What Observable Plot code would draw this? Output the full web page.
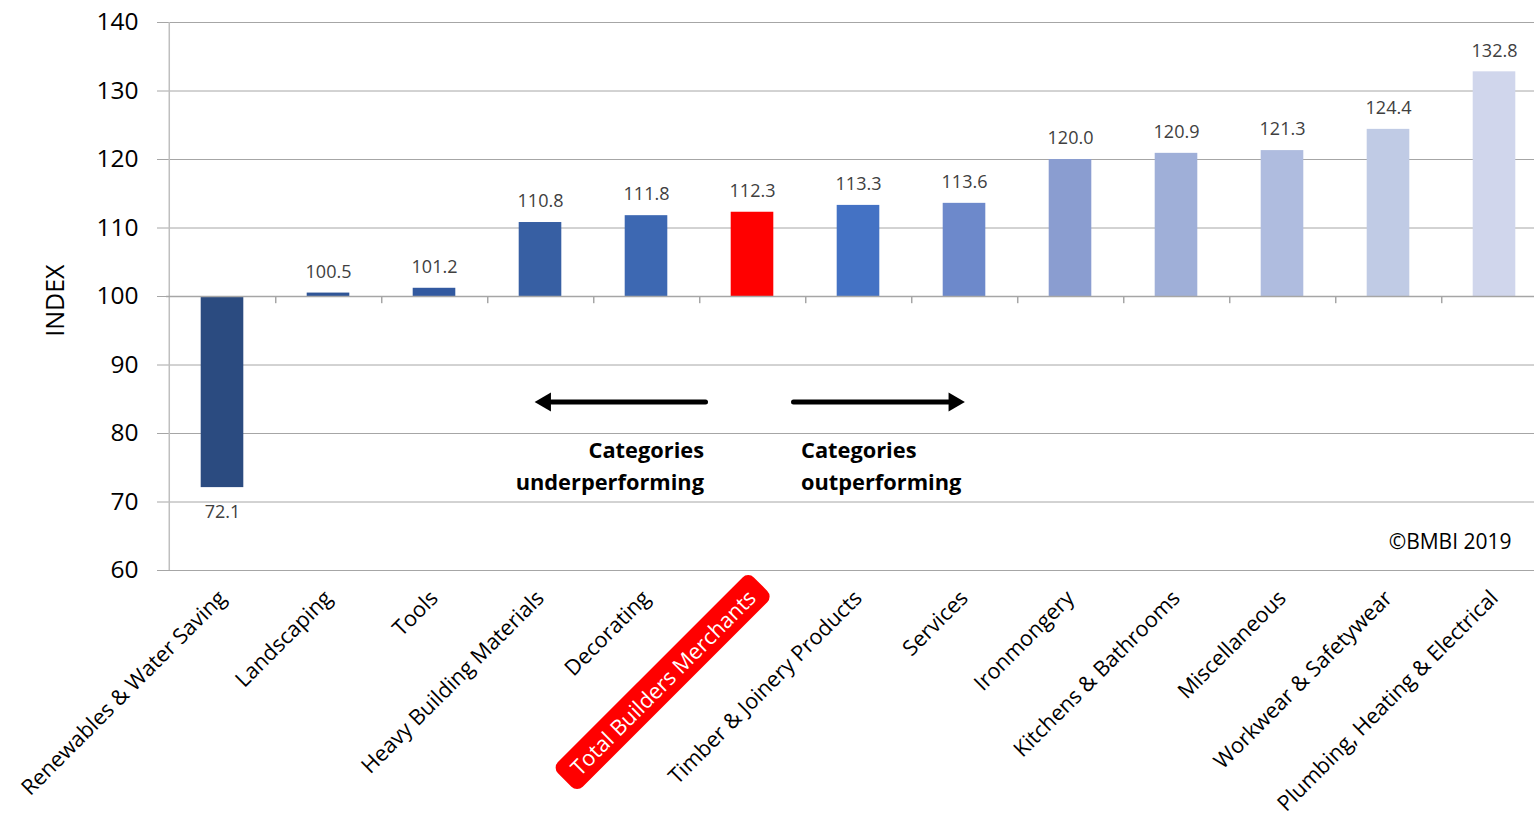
<!DOCTYPE html>
<html>
<head>
<meta charset="utf-8">
<script src="https://cdn.jsdelivr.net/npm/d3@7"></script>
<script src="https://cdn.jsdelivr.net/npm/@observablehq/plot@0.6"></script>
<style>
  html, body { margin: 0; padding: 0; background: #fff; overflow: hidden; }
  #chart svg { display: block; }
</style>
</head>
<body>
<div id="chart"></div>
<script>
// Category index values (base = 100)
const categories = [
  "Renewables & Water Saving",
  "Landscaping",
  "Tools",
  "Heavy Building Materials",
  "Decorating",
  "Total Builders Merchants",
  "Timber & Joinery Products",
  "Services",
  "Ironmongery",
  "Kitchens & Bathrooms",
  "Miscellaneous",
  "Workwear & Safetywear",
  "Plumbing, Heating & Electrical"
];
const values = [72.1, 100.5, 101.2, 110.8, 111.8, 112.3, 113.3, 113.6, 120.0, 120.9, 121.3, 124.4, 132.8];
const barColors = [
  "#2b4b80", "#2f5597", "#3259a0", "#375fa3", "#3d68b2", "#ff0000", "#4472c4",
  "#6d89cb", "#8a9dd0", "#9fafd8", "#afbcdf", "#c0cbe5", "#d0d6ec"
];
const yTicks = [60, 70, 80, 90, 100, 110, 120, 130, 140];
const baseline = 100;
const totalCategory = "Total Builders Merchants";
const notes = [
  {category: "Total Builders Merchants", text: "Categories\nunderperforming", side: "left"},
  {category: "Total Builders Merchants", text: "Categories\noutperforming", side: "right"}
];
const copyright = "©BMBI 2019";

const rows = categories.map((c, i) => ({category: c, value: values[i], color: barColors[i]}));

// frame geometry
const W = 1534, H = 821;
const frameLeft = 166, frameRight = 1550, frameTop = 22, frameBottom = 570;
const step = (frameRight - frameLeft) / categories.length;
const font = "'Open Sans', sans-serif";
const arrowY = 84.6;

const chart = Plot.plot({
  width: W,
  height: H,
  marginTop: frameTop,
  marginBottom: H - frameBottom,
  marginLeft: frameLeft,
  marginRight: W - frameRight,
  style: {fontFamily: font, background: "#fff", color: "#000"},
  x: {domain: categories, padding: 0, axis: null},
  y: {domain: [60, 140], axis: null},
  marks: [
    // horizontal gridlines
    Plot.ruleY(yTicks, {stroke: "#a6a6a6", strokeWidth: 1}),
    // y axis line
    Plot.ruleX([categories[0]], {x: d => d, dx: -step / 2, stroke: "#bfbfbf", strokeWidth: 1.5}),
    Plot.axisY(yTicks, {tickSize: 9, tickPadding: 19, fontSize: 24.5, stroke: "#a6a6a6", label: null}),
    Plot.text(["INDEX"], {frameAnchor: "left", y: 99.4, rotate: -90, dx: -111, textAnchor: "middle", fontSize: 25, fill: "#000"}),
    // bars from the 100 baseline
    Plot.barY(rows, {x: "category", y1: baseline, y2: "value", fill: "color", insetLeft: 31.7, insetRight: 31.7}),
    // category axis at 100 with tick marks between categories
    Plot.ruleY([baseline], {stroke: "#a6a6a6", strokeWidth: 1.5}),
    Plot.ruleX(categories, {x: d => d, dx: step / 2, y1: baseline, y2: baseline - 1.05, stroke: "#a6a6a6", strokeWidth: 1.5}),
    // value labels
    Plot.text(rows.filter(d => d.value >= baseline), {x: "category", y: "value", text: d => d.value.toFixed(1), dy: -21, fontSize: 18, fill: "#404040"}),
    Plot.text(rows.filter(d => d.value < baseline), {x: "category", y: "value", text: d => d.value.toFixed(1), dy: 25, fontSize: 18, fill: "#404040"}),
    // direction arrows
    Plot.arrow([{from: totalCategory, to: categories[3]}], {x1: "from", x2: "to", y1: arrowY, y2: arrowY, headLength: 0, insetStart: 47, insetEnd: 11, stroke: "#000", strokeWidth: 5}),
    Plot.arrow([{from: totalCategory, to: categories[7]}], {x1: "from", x2: "to", y1: arrowY, y2: arrowY, headLength: 0, insetStart: 41, insetEnd: 14, stroke: "#000", strokeWidth: 5}),
    Plot.dot([categories[3]], {x: d => d, y: arrowY, symbol: "triangle", r: 7, rotate: -90, dx: 5, fill: "#000", stroke: null}),
    Plot.dot([categories[7]], {x: d => d, y: arrowY, symbol: "triangle", r: 7, rotate: 90, dx: -10.5, fill: "#000", stroke: null}),
    // annotations
    Plot.text(notes.filter(d => d.side === "left"), {x: "category", y: 75.6, text: "text", textAnchor: "end", dx: -48.5, fontSize: 21.8, fontWeight: "bold", lineHeight: 1.47, fill: "#000"}),
    Plot.text(notes.filter(d => d.side === "right"), {x: "category", y: 75.6, text: "text", textAnchor: "start", dx: 48.5, fontSize: 21.8, fontWeight: "bold", lineHeight: 1.47, fill: "#000"}),
    Plot.text([copyright], {frameAnchor: "bottom-right", lineAnchor: "middle", textAnchor: "end", dx: -39, dy: -28, fontSize: 21, fill: "#000"}),
    // rotated category labels
    Plot.axisX({tickSize: 0, tickRotate: -45, tickPadding: 24, fontSize: 21.6, label: null, fill: "#000"})
  ]
});

document.getElementById("chart").appendChild(chart);

// red rounded badge behind the total category label
const tickLabels = chart.querySelectorAll('g[aria-label="x-axis tick label"] text');
tickLabels.forEach(t => {
  if (t.textContent === totalCategory) {
    t.setAttribute("fill", "#fff");
    const b = t.getBBox();
    const r = document.createElementNS("http://www.w3.org/2000/svg", "rect");
    r.setAttribute("x", b.x - 13);
    r.setAttribute("y", b.y - 3);
    r.setAttribute("width", b.width + 26);
    r.setAttribute("height", b.height + 6);
    r.setAttribute("rx", 8);
    r.setAttribute("fill", "#ff0000");
    if (t.getAttribute("transform")) r.setAttribute("transform", t.getAttribute("transform"));
    t.parentNode.insertBefore(r, t);
  }
});
</script>
</body>
</html>
